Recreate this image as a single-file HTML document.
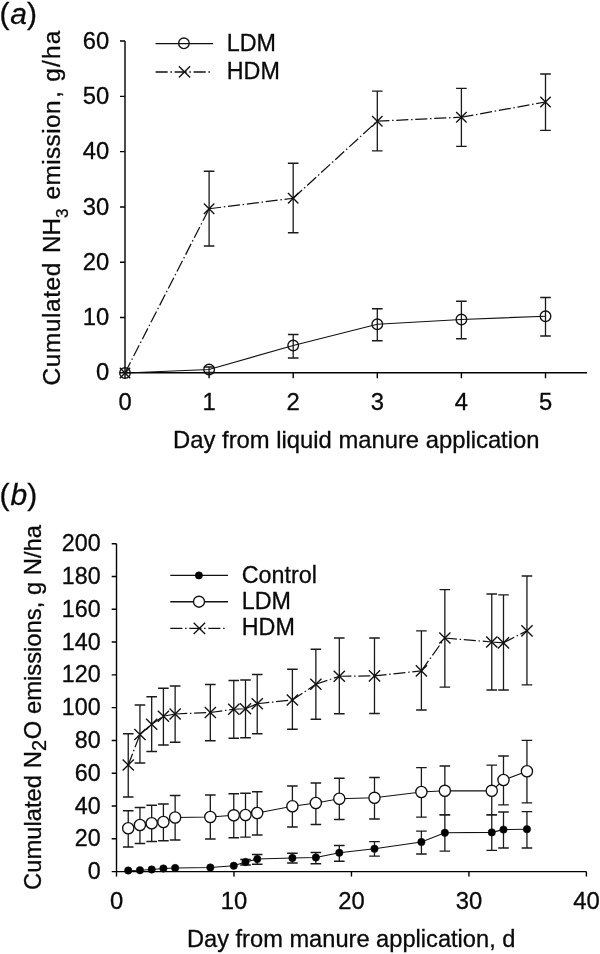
<!DOCTYPE html>
<html><head><meta charset="utf-8"><title>Chart</title>
<style>
html,body{margin:0;padding:0;background:#fff;}
svg{display:block;filter:grayscale(1);}
.t{font-family:"Liberation Sans",sans-serif;font-size:23.8px;fill:#0a0a0a;stroke:#0a0a0a;stroke-width:0.3px;}
.l{font-size:23.3px;}
.p{font-family:"Liberation Sans",sans-serif;font-size:30px;fill:#0a0a0a;stroke:#0a0a0a;stroke-width:0.3px;}
</style></head><body>
<svg width="600" height="954" viewBox="0 0 600 954">
<rect x="0" y="0" width="600" height="954" fill="#fff"/>
<path d="M125 41.06V372.8H587M120 372.8H125M120 317.51H125M120 262.22H125M120 206.93H125M120 151.64H125M120 96.35H125M120 41.06H125M125 372.8V378.3M209.1 372.8V378.3M293.2 372.8V378.3M377.3 372.8V378.3M461.4 372.8V378.3M545.5 372.8V378.3" fill="none" stroke="#000" stroke-width="1.4"/>
<text x="109.2" y="380.4" text-anchor="end" class="t">0</text>
<text x="109.2" y="325.11" text-anchor="end" class="t">10</text>
<text x="109.2" y="269.82" text-anchor="end" class="t">20</text>
<text x="109.2" y="214.53" text-anchor="end" class="t">30</text>
<text x="109.2" y="159.24" text-anchor="end" class="t">40</text>
<text x="109.2" y="103.95" text-anchor="end" class="t">50</text>
<text x="109.2" y="48.66" text-anchor="end" class="t">60</text>
<text x="125" y="410.2" text-anchor="middle" class="t">0</text>
<text x="209.1" y="410.2" text-anchor="middle" class="t">1</text>
<text x="293.2" y="410.2" text-anchor="middle" class="t">2</text>
<text x="377.3" y="410.2" text-anchor="middle" class="t">3</text>
<text x="461.4" y="410.2" text-anchor="middle" class="t">4</text>
<text x="545.5" y="410.2" text-anchor="middle" class="t">5</text>
<text x="356.3" y="448" text-anchor="middle" class="t">Day from liquid manure application</text>
<text transform="translate(59.8 386) rotate(-90)" class="t" style="font-size:24.4px"><tspan x="0.6" style="letter-spacing:0.6px">Cumulated</tspan><tspan x="132.9">NH</tspan><tspan x="168" dy="8.5" font-size="17">3</tspan><tspan x="186.5" dy="-8.5" style="letter-spacing:0.4px">emission</tspan><tspan x="288.3">,</tspan><tspan x="304.3" style="letter-spacing:1.2px">g/ha</tspan></text>
<text x="-0.4" y="24" class="p">(<tspan font-style="italic" dx="0.6">a</tspan>)</text>
<path d="M155.5 43.6H213" stroke="#111" stroke-width="1.35" fill="none"/>
<circle cx="183.9" cy="43.3" r="5.3" fill="none" stroke="#111" stroke-width="1.35"/>
<path d="M155.6 72H210.5" stroke="#111" stroke-width="1.35" fill="none" stroke-dasharray="12.1 2.7 1.5 2.7"/>
<path d="M178.9 66.3L190.1 77.5M178.9 77.5L190.1 66.3" stroke="#111" stroke-width="1.35" fill="none"/>
<text x="226.8" y="51" class="t l">LDM</text>
<text x="226.8" y="79.1" class="t l">HDM</text>
<path d="M209.1 171.25V246M203.8 171.25H214.4M203.8 246H214.4M293.2 163.25V232.75M287.9 163.25H298.5M287.9 232.75H298.5M377.3 91.2V150.8M372 91.2H382.6M372 150.8H382.6M461.4 88.4V146.4M456.1 88.4H466.7M456.1 146.4H466.7M545.5 74V130.4M540.2 74H550.8M540.2 130.4H550.8" fill="none" stroke="#1a1a1a" stroke-width="1.3"/>
<path d="M209.1 367V372.5M203.8 367H214.4M203.8 372.5H214.4M293.2 334.5V358M287.9 334.5H298.5M287.9 358H298.5M377.3 308.75V340.75M372 308.75H382.6M372 340.75H382.6M461.4 301.25V338.75M456.1 301.25H466.7M456.1 338.75H466.7M545.5 297.5V336M540.2 297.5H550.8M540.2 336H550.8" fill="none" stroke="#1a1a1a" stroke-width="1.3"/>
<path d="M125 373L209.1 208.75M209.1 208.75L293.2 198.25M293.2 198.25L377.3 121.2M377.3 121.2L461.4 117.2M461.4 117.2L545.5 102" fill="none" stroke="#111" stroke-width="1.25" stroke-dasharray="12.1 2.7 1.5 2.7"/>
<path d="M125 373 L209.1 369.5 L293.2 345.5 L377.3 324.25 L461.4 319.5 L545.5 316.25" fill="none" stroke="#111" stroke-width="1.15"/>
<path d="M119.8 367.8L130.2 378.2M119.8 378.2L130.2 367.8M203.9 203.55L214.3 213.95M203.9 213.95L214.3 203.55M288 193.05L298.4 203.45M288 203.45L298.4 193.05M372.1 116L382.5 126.4M372.1 126.4L382.5 116M456.2 112L466.6 122.4M456.2 122.4L466.6 112M540.3 96.8L550.7 107.2M540.3 107.2L550.7 96.8" fill="none" stroke="#111" stroke-width="1.35"/>
<circle cx="125" cy="373" r="5.3" fill="none" stroke="#111" stroke-width="1.35"/>
<circle cx="209.1" cy="369.5" r="5.3" fill="none" stroke="#111" stroke-width="1.35"/>
<circle cx="293.2" cy="345.5" r="5.3" fill="none" stroke="#111" stroke-width="1.35"/>
<circle cx="377.3" cy="324.25" r="5.3" fill="none" stroke="#111" stroke-width="1.35"/>
<circle cx="461.4" cy="319.5" r="5.3" fill="none" stroke="#111" stroke-width="1.35"/>
<circle cx="545.5" cy="316.25" r="5.3" fill="none" stroke="#111" stroke-width="1.35"/>
<path d="M116.5 543.7V871.6H586.4M111.7 871.6H116.5M111.7 838.81H116.5M111.7 806.02H116.5M111.7 773.23H116.5M111.7 740.44H116.5M111.7 707.65H116.5M111.7 674.86H116.5M111.7 642.07H116.5M111.7 609.28H116.5M111.7 576.49H116.5M111.7 543.7H116.5M116.5 871.6V876.4M233.98 871.6V876.4M351.45 871.6V876.4M468.93 871.6V876.4M586.4 871.6V876.4" fill="none" stroke="#000" stroke-width="1.4"/>
<text x="100.6" y="879.1" text-anchor="end" class="t l">0</text>
<text x="100.6" y="846.31" text-anchor="end" class="t l">20</text>
<text x="100.6" y="813.52" text-anchor="end" class="t l">40</text>
<text x="100.6" y="780.73" text-anchor="end" class="t l">60</text>
<text x="100.6" y="747.94" text-anchor="end" class="t l">80</text>
<text x="100.6" y="715.15" text-anchor="end" class="t l">100</text>
<text x="100.6" y="682.36" text-anchor="end" class="t l">120</text>
<text x="100.6" y="649.57" text-anchor="end" class="t l">140</text>
<text x="100.6" y="616.78" text-anchor="end" class="t l">160</text>
<text x="100.6" y="583.99" text-anchor="end" class="t l">180</text>
<text x="100.6" y="551.2" text-anchor="end" class="t l">200</text>
<text x="116.5" y="909.4" text-anchor="middle" class="t">0</text>
<text x="233.98" y="909.4" text-anchor="middle" class="t">10</text>
<text x="351.45" y="909.4" text-anchor="middle" class="t">20</text>
<text x="468.93" y="909.4" text-anchor="middle" class="t">30</text>
<text x="586.4" y="909.4" text-anchor="middle" class="t">40</text>
<text x="351.2" y="947.2" text-anchor="middle" class="t" style="font-size:23.65px">Day from manure application, d</text>
<text transform="translate(40.6 890) rotate(-90)" class="t" style="font-size:23.8px">Cumulated N<tspan dy="5.4" font-size="20">2</tspan><tspan dy="-5.4" dx="0.8">O emissions, g N/ha</tspan></text>
<text x="-0.4" y="505.3" class="p">(<tspan font-style="italic" dx="0.9">b</tspan>)</text>
<path d="M170.3 575.4H228M170.3 601.7H228" stroke="#111" stroke-width="1.35" fill="none"/>
<path d="M170.3 628.3H225" stroke="#111" stroke-width="1.35" fill="none" stroke-dasharray="12.1 2.7 1.5 2.7"/>
<circle cx="198.9" cy="575.4" r="3.6" fill="#000" stroke="#000" stroke-width="0.6"/>
<circle cx="199" cy="601.7" r="5.5" fill="#fff" stroke="#111" stroke-width="1.35"/>
<path d="M193.7 622.7L205.1 634M193.7 634L205.1 622.7" stroke="#111" stroke-width="1.35" fill="none"/>
<text x="241.8" y="583" class="t l">Control</text>
<text x="241.8" y="609" class="t l">LDM</text>
<text x="241.8" y="635" class="t l">HDM</text>
<path d="M128.23 733.75V797M122.93 733.75H133.53M122.93 797H133.53M139.95 705V763M134.65 705H145.25M134.65 763H145.25M151.68 696.75V751.5M146.38 696.75H156.98M146.38 751.5H156.98M163.41 688.25V745M158.11 688.25H168.71M158.11 745H168.71M175.13 686V742.25M169.83 686H180.44M169.83 742.25H180.44M210.32 684.5V740.75M205.02 684.5H215.62M205.02 740.75H215.62M233.77 680.5V738.25M228.47 680.5H239.07M228.47 738.25H239.07M245.5 680V737.75M240.2 680H250.8M240.2 737.75H250.8M257.22 674.5V733.75M251.92 674.5H262.52M251.92 733.75H262.52M292.4 669.25V729.25M287.1 669.25H297.7M287.1 729.25H297.7M315.86 649.25V719.25M310.56 649.25H321.16M310.56 719.25H321.16M339.31 638V713.75M334.01 638H344.61M334.01 713.75H344.61M374.49 638V713.5M369.19 638H379.79M369.19 713.5H379.79M421.4 630.8V710M416.1 630.8H426.7M416.1 710H426.7M444.86 589.6V687.2M439.56 589.6H450.16M439.56 687.2H450.16M491.76 594V690M486.46 594H497.06M486.46 690H497.06M503.49 594.8V690M498.19 594.8H508.79M498.19 690H508.79M526.94 576V684.8M521.64 576H532.24M521.64 684.8H532.24" fill="none" stroke="#1a1a1a" stroke-width="1.3"/>
<path d="M128.23 810.75V847M122.93 810.75H133.53M122.93 847H133.53M139.95 807.5V843.5M134.65 807.5H145.25M134.65 843.5H145.25M151.68 805.25V841.5M146.38 805.25H156.98M146.38 841.5H156.98M163.41 804V840.75M158.11 804H168.71M158.11 840.75H168.71M175.13 795.5V840M169.83 795.5H180.44M169.83 840H180.44M210.32 795V839M205.02 795H215.62M205.02 839H215.62M233.77 793.75V837.75M228.47 793.75H239.07M228.47 837.75H239.07M245.5 793.25V837.2M240.2 793.25H250.8M240.2 837.2H250.8M257.22 791.75V835M251.92 791.75H262.52M251.92 835H262.52M292.4 786V827M287.1 786H297.7M287.1 827H297.7M315.86 783V824.5M310.56 783H321.16M310.56 824.5H321.16M339.31 778.25V819.5M334.01 778.25H344.61M334.01 819.5H344.61M374.49 777.5V819M369.19 777.5H379.79M369.19 819H379.79M421.4 767.6V817.2M416.1 767.6H426.7M416.1 817.2H426.7M444.86 766V814.8M439.56 766H450.16M439.56 814.8H450.16M491.76 765.2V814.8M486.46 765.2H497.06M486.46 814.8H497.06M503.49 756V804.8M498.19 756H508.79M498.19 804.8H508.79M526.94 740.4V802.8M521.64 740.4H532.24M521.64 802.8H532.24" fill="none" stroke="#1a1a1a" stroke-width="1.3"/>
<path d="M245.5 859.5V865M240.2 859.5H250.8M240.2 865H250.8M257.22 854.5V864.25M251.92 854.5H262.52M251.92 864.25H262.52M292.4 853.25V863M287.1 853.25H297.7M287.1 863H297.7M315.86 852.5V863.75M310.56 852.5H321.16M310.56 863.75H321.16M339.31 845.5V861.25M334.01 845.5H344.61M334.01 861.25H344.61M374.49 841.7V856.2M369.19 841.7H379.79M369.19 856.2H379.79M421.4 831.2V854M416.1 831.2H426.7M416.1 854H426.7M444.86 814.8V851.2M439.56 814.8H450.16M439.56 851.2H450.16M491.76 814.8V850.4M486.46 814.8H497.06M486.46 850.4H497.06M503.49 812V848M498.19 812H508.79M498.19 848H508.79M526.94 811.6V848M521.64 811.6H532.24M521.64 848H532.24" fill="none" stroke="#1a1a1a" stroke-width="1.3"/>
<path d="M128.23 765L139.95 734.5M139.95 734.5L151.68 724.25M151.68 724.25L163.41 716.25M163.41 716.25L175.13 714M175.13 714L210.32 712.5M210.32 712.5L233.77 709.25M233.77 709.25L245.5 708.75M245.5 708.75L257.22 703.75M257.22 703.75L292.4 700M292.4 700L315.86 684.25M315.86 684.25L339.31 676.25M339.31 676.25L374.49 675.9M374.49 675.9L421.4 670.8M421.4 670.8L444.86 638M444.86 638L491.76 642M491.76 642L503.49 642.8M503.49 642.8L526.94 630.8" fill="none" stroke="#111" stroke-width="1.25" stroke-dasharray="12.1 2.7 1.5 2.7"/>
<path d="M128.23 828.25 L139.95 825 L151.68 823.25 L163.41 822 L175.13 817.5 L210.32 817 L233.77 815.3 L245.5 815 L257.22 813 L292.4 806.25 L315.86 803 L339.31 798.75 L374.49 797.8 L421.4 792 L444.86 790.8 L491.76 790.8 L503.49 780 L526.94 771.2" fill="none" stroke="#111" stroke-width="1.15"/>
<path d="M128.23 870.5 L139.95 870.25 L151.68 869.5 L163.41 868.5 L175.13 868 L210.32 867.5 L233.77 865.75 L245.5 862 L257.22 859 L292.4 858 L315.86 857.5 L339.31 852.75 L374.49 848.75 L421.4 842 L444.86 832.8 L491.76 832.4 L503.49 829.6 L526.94 829.2" fill="none" stroke="#111" stroke-width="1.15"/>
<path d="M122.63 759.4L133.83 770.6M122.63 770.6L133.83 759.4M134.35 728.9L145.55 740.1M134.35 740.1L145.55 728.9M146.08 718.65L157.28 729.85M146.08 729.85L157.28 718.65M157.81 710.65L169.01 721.85M157.81 721.85L169.01 710.65M169.53 708.4L180.73 719.6M169.53 719.6L180.73 708.4M204.72 706.9L215.92 718.1M204.72 718.1L215.92 706.9M228.17 703.65L239.37 714.85M228.17 714.85L239.37 703.65M239.9 703.15L251.1 714.35M239.9 714.35L251.1 703.15M251.62 698.15L262.82 709.35M251.62 709.35L262.82 698.15M286.8 694.4L298 705.6M286.8 705.6L298 694.4M310.26 678.65L321.46 689.85M310.26 689.85L321.46 678.65M333.71 670.65L344.91 681.85M333.71 681.85L344.91 670.65M368.89 670.3L380.09 681.5M368.89 681.5L380.09 670.3M415.8 665.2L427 676.4M415.8 676.4L427 665.2M439.26 632.4L450.46 643.6M439.26 643.6L450.46 632.4M486.16 636.4L497.36 647.6M486.16 647.6L497.36 636.4M497.89 637.2L509.09 648.4M497.89 648.4L509.09 637.2M521.34 625.2L532.54 636.4M521.34 636.4L532.54 625.2" fill="none" stroke="#111" stroke-width="1.35"/>
<circle cx="128.23" cy="828.25" r="5.6" fill="#fff" stroke="#111" stroke-width="1.35"/>
<circle cx="139.95" cy="825" r="5.6" fill="#fff" stroke="#111" stroke-width="1.35"/>
<circle cx="151.68" cy="823.25" r="5.6" fill="#fff" stroke="#111" stroke-width="1.35"/>
<circle cx="163.41" cy="822" r="5.6" fill="#fff" stroke="#111" stroke-width="1.35"/>
<circle cx="175.13" cy="817.5" r="5.6" fill="#fff" stroke="#111" stroke-width="1.35"/>
<circle cx="210.32" cy="817" r="5.6" fill="#fff" stroke="#111" stroke-width="1.35"/>
<circle cx="233.77" cy="815.3" r="5.6" fill="#fff" stroke="#111" stroke-width="1.35"/>
<circle cx="245.5" cy="815" r="5.6" fill="#fff" stroke="#111" stroke-width="1.35"/>
<circle cx="257.22" cy="813" r="5.6" fill="#fff" stroke="#111" stroke-width="1.35"/>
<circle cx="292.4" cy="806.25" r="5.6" fill="#fff" stroke="#111" stroke-width="1.35"/>
<circle cx="315.86" cy="803" r="5.6" fill="#fff" stroke="#111" stroke-width="1.35"/>
<circle cx="339.31" cy="798.75" r="5.6" fill="#fff" stroke="#111" stroke-width="1.35"/>
<circle cx="374.49" cy="797.8" r="5.6" fill="#fff" stroke="#111" stroke-width="1.35"/>
<circle cx="421.4" cy="792" r="5.6" fill="#fff" stroke="#111" stroke-width="1.35"/>
<circle cx="444.86" cy="790.8" r="5.6" fill="#fff" stroke="#111" stroke-width="1.35"/>
<circle cx="491.76" cy="790.8" r="5.6" fill="#fff" stroke="#111" stroke-width="1.35"/>
<circle cx="503.49" cy="780" r="5.6" fill="#fff" stroke="#111" stroke-width="1.35"/>
<circle cx="526.94" cy="771.2" r="5.6" fill="#fff" stroke="#111" stroke-width="1.35"/>
<circle cx="128.23" cy="870.5" r="3.7" fill="#000" stroke="#111" stroke-width="0.6"/>
<circle cx="139.95" cy="870.25" r="3.7" fill="#000" stroke="#111" stroke-width="0.6"/>
<circle cx="151.68" cy="869.5" r="3.7" fill="#000" stroke="#111" stroke-width="0.6"/>
<circle cx="163.41" cy="868.5" r="3.7" fill="#000" stroke="#111" stroke-width="0.6"/>
<circle cx="175.13" cy="868" r="3.7" fill="#000" stroke="#111" stroke-width="0.6"/>
<circle cx="210.32" cy="867.5" r="3.7" fill="#000" stroke="#111" stroke-width="0.6"/>
<circle cx="233.77" cy="865.75" r="3.7" fill="#000" stroke="#111" stroke-width="0.6"/>
<circle cx="245.5" cy="862" r="3.7" fill="#000" stroke="#111" stroke-width="0.6"/>
<circle cx="257.22" cy="859" r="3.7" fill="#000" stroke="#111" stroke-width="0.6"/>
<circle cx="292.4" cy="858" r="3.7" fill="#000" stroke="#111" stroke-width="0.6"/>
<circle cx="315.86" cy="857.5" r="3.7" fill="#000" stroke="#111" stroke-width="0.6"/>
<circle cx="339.31" cy="852.75" r="3.7" fill="#000" stroke="#111" stroke-width="0.6"/>
<circle cx="374.49" cy="848.75" r="3.7" fill="#000" stroke="#111" stroke-width="0.6"/>
<circle cx="421.4" cy="842" r="3.7" fill="#000" stroke="#111" stroke-width="0.6"/>
<circle cx="444.86" cy="832.8" r="3.7" fill="#000" stroke="#111" stroke-width="0.6"/>
<circle cx="491.76" cy="832.4" r="3.7" fill="#000" stroke="#111" stroke-width="0.6"/>
<circle cx="503.49" cy="829.6" r="3.7" fill="#000" stroke="#111" stroke-width="0.6"/>
<circle cx="526.94" cy="829.2" r="3.7" fill="#000" stroke="#111" stroke-width="0.6"/>
</svg>
</body></html>
